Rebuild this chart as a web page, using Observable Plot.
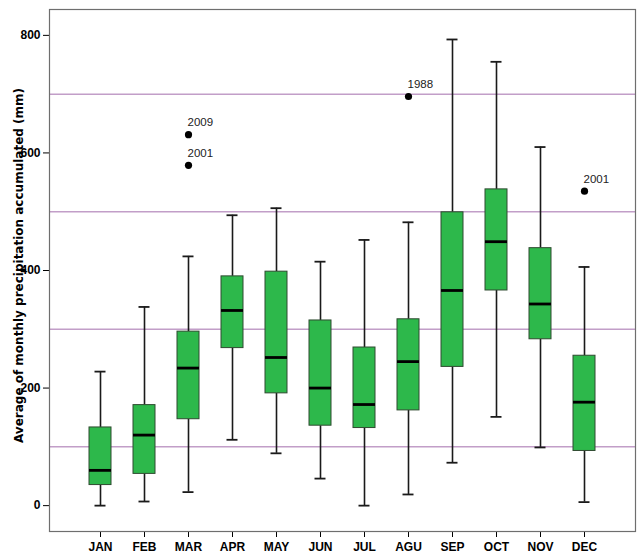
<!DOCTYPE html>
<html>
<head>
<meta charset="utf-8">
<script src="https://cdn.jsdelivr.net/npm/d3@7"></script>
<script src="https://cdn.jsdelivr.net/npm/@observablehq/plot@0.6"></script>
<style>
  html, body { margin: 0; padding: 0; background: #fff; }
  #chart { width: 638px; height: 553px; }
</style>
</head>
<body>
<div id="chart"></div>
<script>
const months  = ["JAN","FEB","MAR","APR","MAY","JUN","JUL","AGU","SEP","OCT","NOV","DEC"];
const whiskerLow  = [0,   7,   23,  112, 89,  46,  0,   19,  73,  151, 99,  6];
const q1          = [35,  54,  147, 268, 191, 136, 132, 162, 236, 366, 283, 93];
const median      = [60,  120, 234, 332, 252, 200, 172, 245, 366, 449, 343, 176];
const q3          = [133, 171, 296, 390, 398, 315, 269, 317, 499, 538, 438, 255];
const whiskerHigh = [228, 338, 424, 494, 506, 415, 452, 482, 793, 755, 610, 406];

const outlierMonths = ["MAR","MAR","AGU","DEC"];
const outlierValues = [631, 579, 696, 535];
const outlierYears  = ["2009","2001","1988","2001"];

const gridValues = [100, 300, 500, 700];
const yTicks = [0, 200, 400, 600, 800];
const yLabel = "Average of monthly precipitation accumulated (mm)";

const boxes = months.map((m, i) => ({
  month: m, low: whiskerLow[i], q1: q1[i], median: median[i], q3: q3[i], high: whiskerHigh[i]
}));
const outliers = outlierMonths.map((m, i) => ({month: m, value: outlierValues[i], year: outlierYears[i]}));

const whiskerColor = "#1a1a1a";

const chart = Plot.plot({
  width: 638,
  height: 553,
  marginTop: 9,
  marginBottom: 22,
  marginLeft: 49,
  marginRight: 3,
  style: {fontFamily: "'Liberation Sans', Arial, sans-serif", fontSize: "12px", background: "#fff", color: "#000"},
  x: {domain: months, paddingInner: 0.5, paddingOuter: 0.909, label: null},
  y: {domain: [-44, 844], label: null},
  marks: [
    Plot.ruleY(gridValues, {stroke: "#c29ec8", strokeWidth: 1.5}),
    Plot.ruleX(boxes, {x: "month", y1: "low", y2: "q1", stroke: whiskerColor, strokeWidth: 1.6}),
    Plot.ruleX(boxes, {x: "month", y1: "q3", y2: "high", stroke: whiskerColor, strokeWidth: 1.6}),
    Plot.tickY(boxes, {x: "month", y: "low", stroke: whiskerColor, strokeWidth: 1.8, insetLeft: 5.5, insetRight: 5.5}),
    Plot.tickY(boxes, {x: "month", y: "high", stroke: whiskerColor, strokeWidth: 1.8, insetLeft: 5.5, insetRight: 5.5}),
    Plot.barY(boxes, {x: "month", y1: "q1", y2: "q3", fill: "#2db84b", stroke: "#2f4a30", strokeWidth: 1}),
    Plot.tickY(boxes, {x: "month", y: "median", stroke: "#000", strokeWidth: 2.8}),
    Plot.dot(outliers, {x: "month", y: "value", r: 3.6, fill: "#000", stroke: "none"}),
    Plot.text(outliers, {x: "month", y: "value", text: "year", textAnchor: "start", dx: -1, dy: -12, fontSize: 11.5, fill: "#222"}),
    Plot.axisY({ticks: yTicks, tickSize: 6, fontWeight: "bold", fontSize: 12, label: null}),
    Plot.axisX({tickSize: 6, fontWeight: "bold", fontSize: 12, tickPadding: 5, label: null}),
    Plot.text([yLabel], {frameAnchor: "left", text: d => d, textAnchor: "middle", rotate: -90, dx: -30, dy: -5, fontFamily: "'DejaVu Sans', Verdana, sans-serif", fontWeight: "bold", fontSize: 12, fill: "#000"}),
    Plot.frame({stroke: "#6e6e6e", strokeWidth: 1.2})
  ]
});
document.getElementById("chart").appendChild(chart);
</script>
</body>
</html>
